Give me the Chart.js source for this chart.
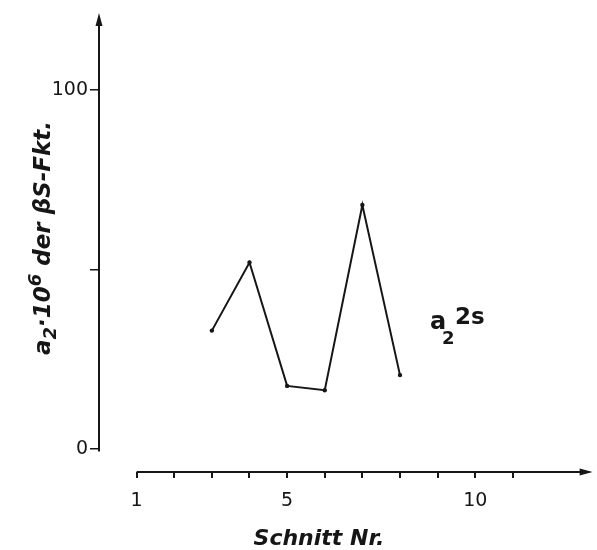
<!DOCTYPE html>
<html>
<head>
<meta charset="utf-8">
<script src="https://cdn.jsdelivr.net/npm/chart.js@4.4.1/dist/chart.umd.min.js"></script>
<style>
  html, body { margin: 0; padding: 0; background: #fff; }
  #wrap { width: 597px; height: 550px; }
</style>
</head>
<body>
<div id="wrap"><canvas id="c" width="597" height="550"></canvas></div>
<script>
// values
const schnitt = [3, 4, 5, 6, 7, 8];
const a2Values = [33, 52, 17.6, 16.4, 68, 20.6];
const xTicks = [1, 2, 3, 4, 5, 6, 7, 8, 9, 10, 11];
const xTickLabels = { 1: '1', 5: '5', 10: '10' };
const yTicks = [0, 50, 100];
const yTickLabels = { 0: '0', 100: '100' };

const INK = '#161616';
const FONT = '"DejaVu Sans", sans-serif';

// draw a run of [text, fontSize, baselineShift] pieces, centered at cx
function drawRuns(ctx, runs, cx, baseY, style) {
  let total = 0;
  runs.forEach(([t, size]) => {
    ctx.font = style + ' ' + size + 'px ' + FONT;
    total += ctx.measureText(t).width;
  });
  let px = cx - total / 2;
  ctx.textAlign = 'left';
  runs.forEach(([t, size, dy]) => {
    ctx.font = style + ' ' + size + 'px ' + FONT;
    ctx.fillText(t, px, baseY + dy);
    px += ctx.measureText(t).width;
  });
}

// axis lines, arrows and free text drawn on top, positioned via the scales
const axesPlugin = {
  id: 'handAxes',
  afterDraw(chart) {
    const ctx = chart.ctx;
    const x = chart.scales.x;
    const y = chart.scales.y;
    const x0 = x.getPixelForValue(0);
    const yBottom = y.getPixelForValue(-0.7);
    const yTop = y.getPixelForValue(121.5);
    const xAxisY = y.getPixelForValue(-6.4);
    const xStart = x.getPixelForValue(1);
    const xEnd = x.getPixelForValue(13.12);

    ctx.save();
    ctx.strokeStyle = INK;
    ctx.fillStyle = INK;
    ctx.lineWidth = 2;
    ctx.beginPath();
    ctx.moveTo(x0, yBottom);
    ctx.lineTo(x0, yTop + 8);
    ctx.moveTo(xStart, xAxisY);
    ctx.lineTo(xEnd - 8, xAxisY);
    ctx.stroke();
    // arrow heads
    ctx.beginPath();
    ctx.moveTo(x0, yTop);
    ctx.lineTo(x0 - 3.5, yTop + 13);
    ctx.lineTo(x0 + 3.5, yTop + 13);
    ctx.closePath();
    ctx.fill();
    ctx.beginPath();
    ctx.moveTo(xEnd, xAxisY);
    ctx.lineTo(xEnd - 13, xAxisY - 3.5);
    ctx.lineTo(xEnd - 13, xAxisY + 3.5);
    ctx.closePath();
    ctx.fill();

    ctx.textBaseline = 'alphabetic';
    // x title
    drawRuns(ctx, [['Schnitt Nr.', 22, 0]], 319, 545, 'bold oblique');

    // y title, rotated
    ctx.save();
    ctx.translate(50, 238);
    ctx.rotate(-Math.PI / 2);
    drawRuns(ctx, [
      ['a', 23, 0], ['2', 18, 6], ['\u00b710', 23, 0], ['6', 18, -9],
      [' der \u03b2S-Fkt.', 23, 0],
    ], 0, 0, 'bold oblique');
    ctx.restore();

    // series label a2^2s
    const lx = x.getPixelForValue(8.8);
    const ly = y.getPixelForValue(33.5);
    ctx.textAlign = 'left';
    ctx.font = 'bold 24px ' + FONT;
    ctx.fillText('a', lx, ly);
    ctx.font = 'bold 18px ' + FONT;
    ctx.fillText('2', lx + 12, ly + 15);
    ctx.font = 'bold 23px ' + FONT;
    ctx.fillText('2s', lx + 25, ly - 5);
    ctx.restore();
  }
};

new Chart(document.getElementById('c'), {
  type: 'line',
  data: {
    datasets: [{
      data: schnitt.map((s, i) => ({ x: s, y: a2Values[i] })),
      borderColor: INK,
      backgroundColor: INK,
      borderWidth: 2,
      pointRadius: 2.2,
      pointBorderWidth: 0,
      tension: 0,
      fill: false,
    }],
  },
  options: {
    responsive: false,
    animation: false,
    layout: { padding: { top: 12, right: 0, left: 0, bottom: 0 } },
    plugins: { legend: { display: false }, tooltip: { enabled: false } },
    scales: {
      x: {
        type: 'linear',
        min: 0,
        max: 13.13,
        afterFit: (s) => { s.height = 78; },
        afterBuildTicks: (s) => { s.ticks = xTicks.map((v) => ({ value: v })); },
        border: { display: false },
        grid: { drawOnChartArea: false, drawTicks: true, tickLength: 6, color: INK, lineWidth: 2 },
        ticks: {
          autoSkip: false,
          maxRotation: 0,
          padding: 12,
          color: INK,
          font: { family: FONT, size: 19 },
          callback: (v) => xTickLabels[v] || '',
        },
      },
      y: {
        type: 'linear',
        min: -6.4,
        max: 121.4,
        afterFit: (s) => { s.width = 99; },
        afterBuildTicks: (s) => { s.ticks = yTicks.map((v) => ({ value: v })); },
        border: { display: false },
        grid: { drawOnChartArea: false, drawTicks: true, tickLength: 9, color: INK, lineWidth: 1.5 },
        ticks: {
          autoSkip: false,
          padding: 2,
          color: INK,
          font: { family: FONT, size: 19 },
          callback: (v) => yTickLabels[v] || '',
        },
      },
    },
  },
  plugins: [axesPlugin],
});
</script>
</body>
</html>
